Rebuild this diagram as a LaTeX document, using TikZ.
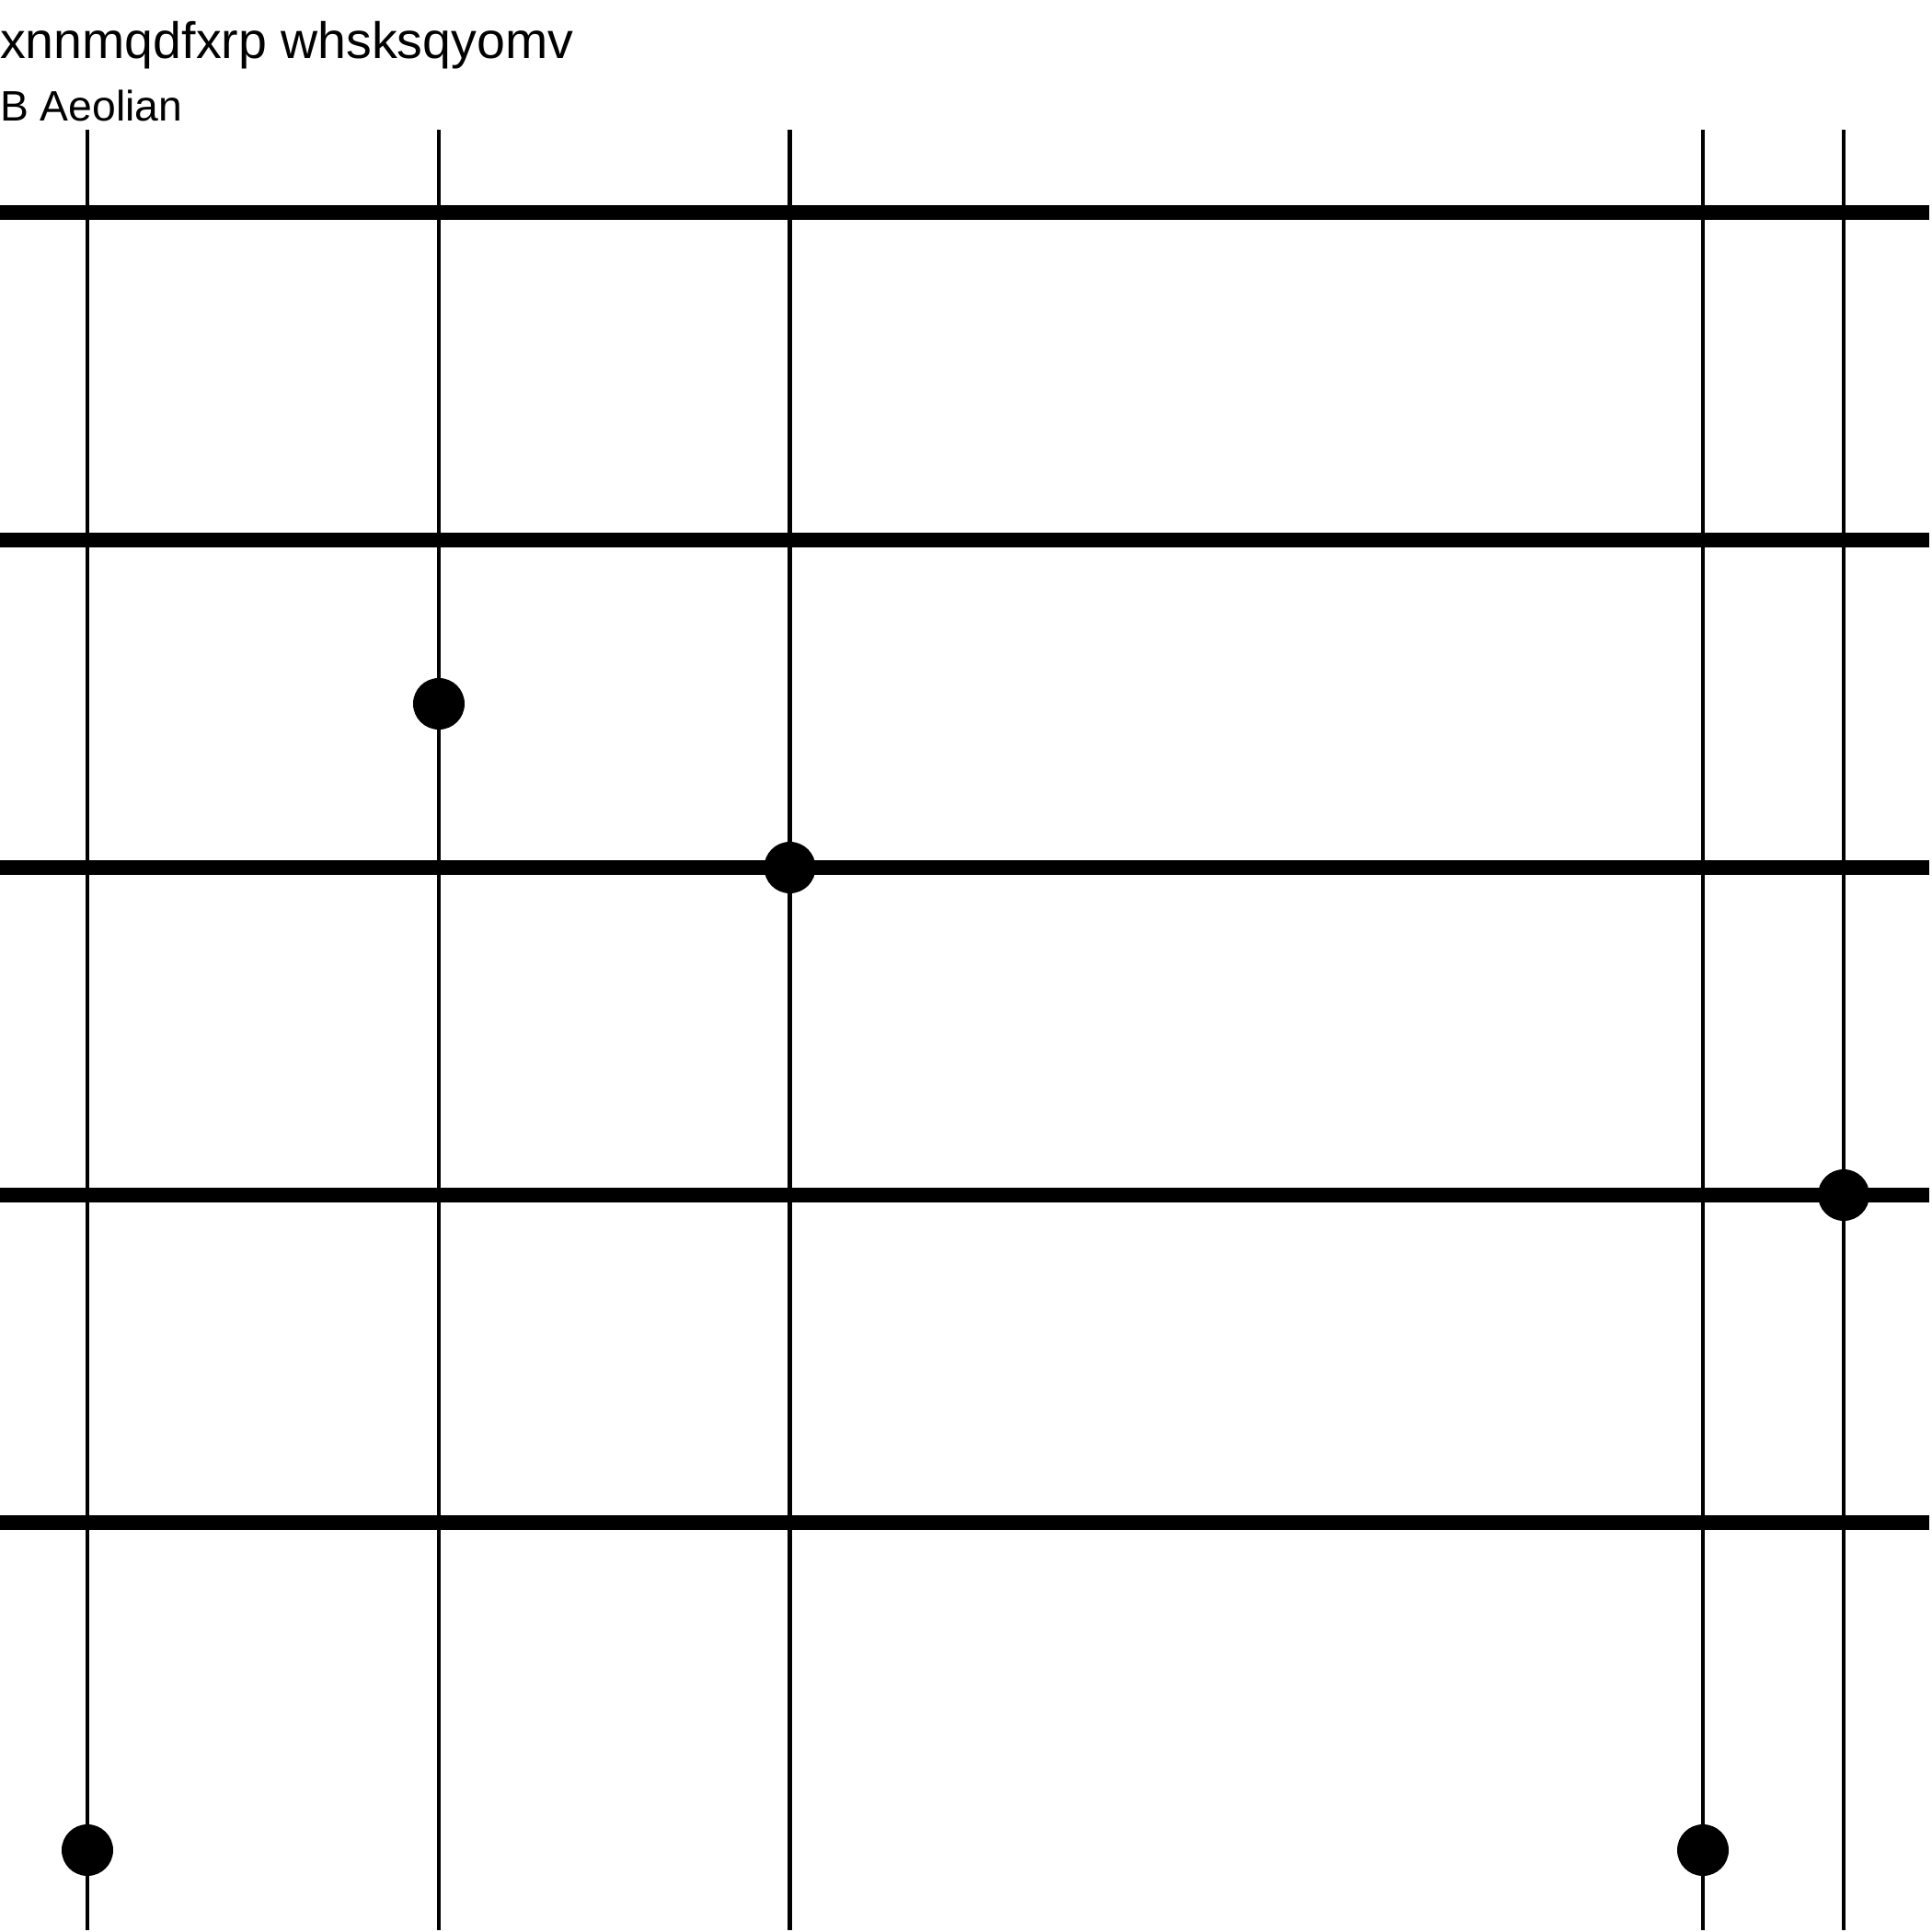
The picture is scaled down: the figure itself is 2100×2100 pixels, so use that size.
\documentclass[tikz,border=0pt]{standalone}
\usepackage{fontspec}
\setmainfont{Liberation Sans}
\begin{document}
\begin{tikzpicture}[x=1pt,y=-1pt,
  fret/.style={line width=16pt},
  string/.style={line width=4.3pt},
  dotmark/.style={circle,fill=black,draw=none,minimum size=56pt,inner sep=0pt}]
\useasboundingbox (0,0) rectangle (2100,2100);
\fill[white] (0,0) rectangle (2100,2100);
\node[anchor=base west,inner sep=0pt,font=\fontsize{55.5}{60}\selectfont] (title) at (0,64) {xnnmqdfxrp whsksqyomv};
\node[anchor=base west,inner sep=0pt,font=\fontsize{46.3}{50}\selectfont] (sub) at (0,132) {B Aeolian};
% frets
\foreach \y [count=\i] in {231,587,943,1299,1655} {
  \coordinate (fl\i) at (0,\y);
  \coordinate (fr\i) at (2097,\y);
  \draw[fret] (fl\i) -- (fr\i);
}
% strings
\foreach \x [count=\i] in {95,477,858.5,1851,2004} {
  \coordinate (st\i) at (\x,141);
  \coordinate (sb\i) at (\x,2098);
  \draw[string] (st\i) -- (sb\i);
}
% dots
\node[dotmark] (d1) at (477,765) {};
\node[dotmark] (d2) at (858.5,943) {};
\node[dotmark] (d3) at (2004,1299) {};
\node[dotmark] (d4) at (95,2011) {};
\node[dotmark] (d5) at (1851,2011) {};
\end{tikzpicture}
\end{document}
